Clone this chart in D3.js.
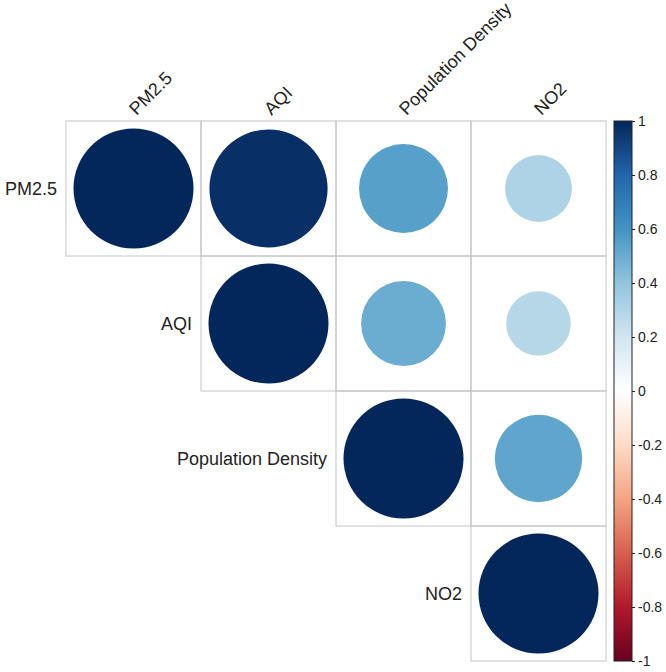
<!DOCTYPE html>
<html><head><meta charset="utf-8">
<script src="https://cdn.jsdelivr.net/npm/d3@7"></script>
<style>body{margin:0;background:#fff}svg{display:block}</style>
</head><body>
<svg id="c" width="666" height="672"></svg>
<script>
const vars = ["PM2.5", "AQI", "Population Density", "NO2"];
// upper-triangle correlations [row, col, r]
const rows = ["PM2.5","PM2.5","PM2.5","PM2.5","AQI","AQI","AQI","Population Density","Population Density","NO2"];
const cols = ["PM2.5","AQI","Population Density","NO2","AQI","Population Density","NO2","Population Density","NO2","NO2"];
const corrs = [1, 0.97, 0.55, 0.31, 1, 0.50, 0.29, 1, 0.53, 1];
const colorTicks = [1, 0.8, 0.6, 0.4, 0.2, 0, -0.2, -0.4, -0.6, -0.8, -1];
const paletteStops = ["#67001F","#B2182B","#D6604D","#F4A582","#FDDBC7","#FFFFFF","#D1E5F0","#92C5DE","#4393C3","#2166AC","#03275B"];

const svg = d3.select("#c");
const font = "Liberation Sans, Arial, sans-serif";
const x = d3.scaleBand().domain(vars).range([66, 606]);
const y = d3.scaleBand().domain(vars).range([121, 661]);
const color = d3.scaleLinear().domain(d3.range(11).map(i => -1 + i * 0.2)).range(paletteStops);
const rad = d3.scaleSqrt().domain([0, 1]).range([0, 60]);

const cells = rows.map((r, i) => ({row: r, col: cols[i], v: corrs[i]}));

svg.append("g").selectAll("rect").data(cells).join("rect")
  .attr("x", d => x(d.col)).attr("y", d => y(d.row))
  .attr("width", x.bandwidth()).attr("height", y.bandwidth())
  .attr("fill", "none").attr("stroke", "#c4c4c4").attr("stroke-width", 1);

svg.append("g").selectAll("circle").data(cells).join("circle")
  .attr("cx", d => x(d.col) + x.bandwidth() / 2)
  .attr("cy", d => y(d.row) + y.bandwidth() / 2)
  .attr("r", d => rad(Math.abs(d.v)))
  .attr("fill", d => color(d.v));

// row labels
svg.append("g").selectAll("text").data(vars).join("text")
  .attr("x", d => x(d) - 9)
  .attr("y", d => y(d) + y.bandwidth() / 2)
  .attr("text-anchor", "end").attr("dominant-baseline", "central")
  .attr("font-family", font).attr("font-size", 18).attr("fill", "#222")
  .text(d => d);

// column labels
svg.append("g").selectAll("text").data(vars).join("text")
  .attr("transform", d => `translate(${x(d) + x.bandwidth() / 2 + 3},116) rotate(-45)`)
  .attr("text-anchor", "start")
  .attr("font-family", font).attr("font-size", 18).attr("fill", "#222")
  .text(d => d);

// color bar
const cb = d3.scaleLinear().domain([-1, 1]).range([661, 121]);
const defs = svg.append("defs");
const grad = defs.append("linearGradient").attr("id", "g").attr("x1", 0).attr("y1", 1).attr("x2", 0).attr("y2", 0);
grad.selectAll("stop").data(paletteStops).join("stop")
  .attr("offset", (d, i) => i / 10).attr("stop-color", d => d);
svg.append("rect").attr("x", 614).attr("y", cb(1)).attr("width", 18).attr("height", cb(-1) - cb(1))
  .attr("fill", "url(#g)").attr("stroke", "#222").attr("stroke-width", 1);
const axis = d3.axisRight(cb).tickValues(colorTicks).tickSize(3).tickPadding(3).tickFormat(d => String(d));
const ag = svg.append("g").attr("transform", "translate(632,0)").call(axis);
ag.select(".domain").remove();
ag.selectAll("text").attr("font-family", font).attr("font-size", 14).attr("fill", "#222");
ag.selectAll("line").attr("stroke", "#222");
</script>
</body></html>
